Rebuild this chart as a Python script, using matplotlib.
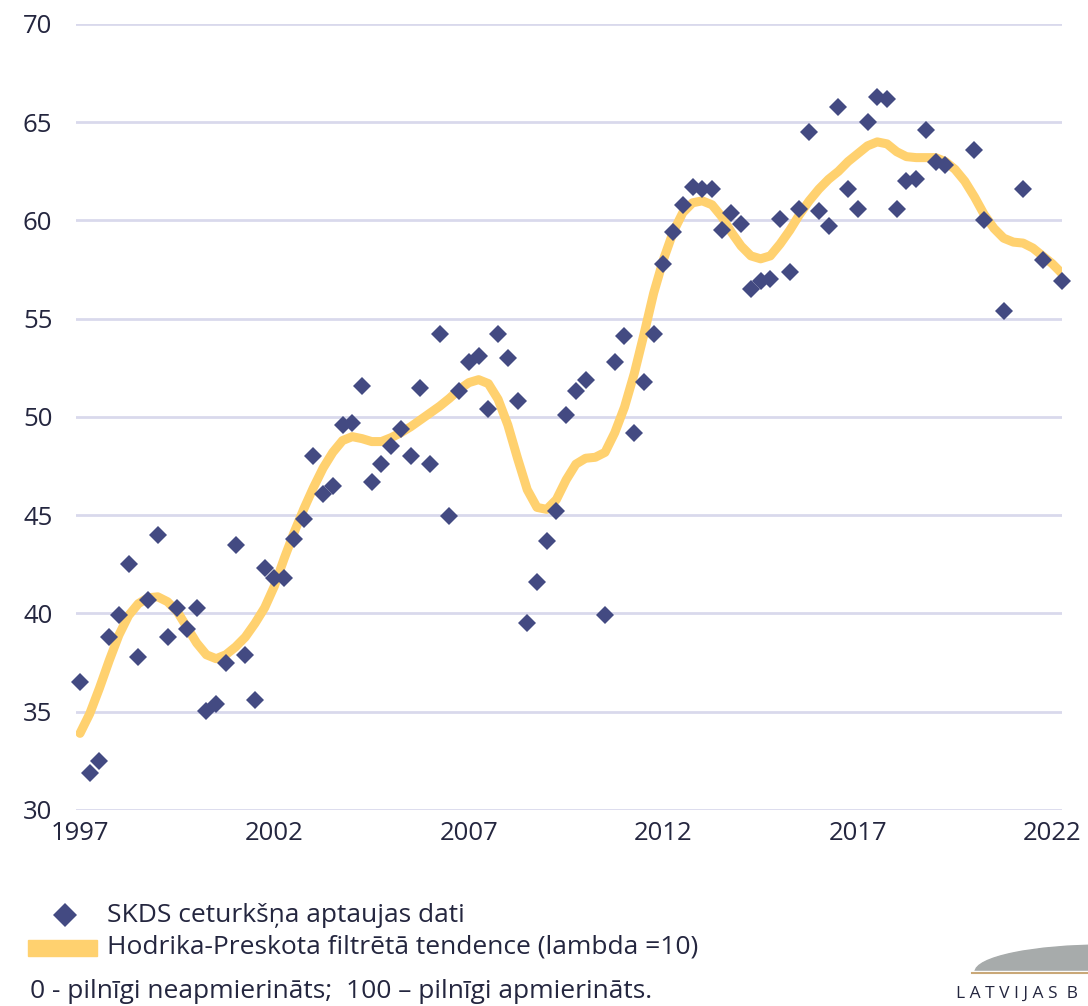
import matplotlib
matplotlib.use("Agg")
import matplotlib.pyplot as plt
import numpy as np
from matplotlib.patches import Rectangle, Ellipse
from matplotlib.lines import Line2D

plt.rcParams['font.family'] = ['Open Sans', 'DejaVu Sans']

start_year = 1997
# quarterly survey values 1997Q1 .. 2022Q2 (None = no survey that quarter)
survey_values = [
    36.5, 31.9, 32.5, 38.8, 39.9, 42.5, 37.8, 40.7, 44.0, 38.8,
    40.3, 39.2, 40.3, 35.05, 35.4, 37.5, 43.5, 37.9, 35.6, 42.3,
    41.8, 41.8, 43.8, 44.8, 48.0, 46.1, 46.5, 49.6, 49.7, 51.6,
    46.7, 47.6, 48.5, 49.4, 48.0, 51.5, 47.6, 54.2, 44.95, 51.3,
    52.8, 53.1, 50.4, 54.2, 53.0, 50.8, 39.5, 41.6, 43.7, 45.2,
    50.1, 51.3, 51.9, None, 39.9, 52.8, 54.1, 49.2, 51.8, 54.2,
    57.8, 59.4, 60.8, 61.7, 61.6, 61.6, 59.5, 60.4, 59.8, 56.5,
    56.9, 57.0, 60.1, 57.4, 60.6, 64.5, 60.5, 59.7, 65.8, 61.6,
    60.6, 65.0, 66.3, 66.2, 60.6, 62.0, 62.1, 64.6, 63.0, 62.8,
    None, None, 63.6, 60.0, None, 55.4, None, 61.6, None, 58.0,
    None, 56.9,
]
# Hodrick-Prescott trend (lambda = 10)
trend_values = [
    33.9, 34.9, 36.2, 37.6, 38.9, 39.9, 40.5, 40.8, 40.85, 40.6,
    40.1, 39.3, 38.5, 37.9, 37.7, 37.9, 38.3, 38.8, 39.5, 40.3,
    41.4, 42.8, 44.1, 45.3, 46.4, 47.4, 48.2, 48.8, 49.0, 48.9,
    48.75, 48.75, 48.95, 49.2, 49.5, 49.85, 50.2, 50.55, 50.95, 51.4,
    51.75, 51.9, 51.7, 50.9, 49.6, 47.9, 46.3, 45.4, 45.3, 45.8,
    46.8, 47.6, 47.9, 47.95, 48.2, 49.2, 50.5, 52.2, 54.2, 56.3,
    58.0, 59.4, 60.4, 60.9, 61.0, 60.8, 60.2, 59.4, 58.7, 58.2,
    58.05, 58.2, 58.8, 59.5, 60.3, 61.0, 61.6, 62.1, 62.5, 63.0,
    63.4, 63.8, 64.0, 63.9, 63.5, 63.25, 63.2, 63.2, 63.2, 63.0,
    62.6, 62.0, 61.2, 60.3, 59.6, 59.1, 58.9, 58.85, 58.6, 58.2,
    57.8, 57.3,
]
x_ticks = [1997, 2002, 2007, 2012, 2017, 2022]
y_ticks = [30, 35, 40, 45, 50, 55, 60, 65, 70]

legend_labels = ["SKDS ceturkšņa aptaujas dati",
                 "Hodrika-Preskota filtrētā tendence (lambda =10)"]
note_text = "0 - pilnīgi neapmierināts;  100 – pilnīgi apmierināts."

navy = "#434a82"
yellow = "#ffd16f"
grid_c = "#d9d9ec"
text_c = "#24263f"

t = start_year + np.arange(len(trend_values)) / 4.0
sv = np.array([np.nan if v is None else v for v in survey_values], dtype=float)

W, H = 1088, 1006
fig = plt.figure(figsize=(W / 100, H / 100), dpi=100)
ax = fig.add_axes([76 / W, 1 - 810 / H, (1062 - 76) / W, (810 - 24) / H])

ax.set_ylim(30, 70)
ax.set_xlim(1997 - 4 / 38.9, 1997 + 101 / 4)
ax.set_yticks(y_ticks)
ax.set_xticks(x_ticks)
ax.yaxis.grid(True, color=grid_c, linewidth=2)
ax.set_axisbelow(True)
for s in ax.spines.values():
    s.set_visible(False)
ax.tick_params(length=0, labelsize=18.5, colors=text_c)
ax.tick_params(axis='y', pad=17)
ax.tick_params(axis='x', pad=8)

ax.plot(t, trend_values, color=yellow, linewidth=6.5, solid_capstyle='round',
        solid_joinstyle='round', zorder=2)
ax.plot(t, sv, linestyle='none', marker='D', markersize=9.2, color=navy,
        markeredgewidth=0, zorder=3, clip_on=False)

# legend (drawn manually)
fig.lines.append(Line2D([65 / W], [1 - 915 / H], marker='D', markersize=12,
                        color=navy, markeredgewidth=0, transform=fig.transFigure,
                        linestyle='none'))
fig.text(107 / W, 1 - 915 / H, legend_labels[0], fontsize=19, color=text_c,
         va='center', ha='left')
fig.patches.append(Rectangle((28 / W, 1 - 956 / H), 69 / W, 16 / H,
                             transform=fig.transFigure, color=yellow))
fig.text(107 / W, 1 - 947 / H, legend_labels[1], fontsize=19, color=text_c,
         va='center', ha='left')
fig.text(30 / W, 1 - 992 / H, note_text, fontsize=19, color=text_c,
         va='center', ha='left')

# logo fragment (bottom right)
lax = fig.add_axes([940 / W, 0, 148 / W, 70 / H])
lax.set_xlim(940, 1088)
lax.set_ylim(1006, 936)
lax.axis('off')
lax.add_patch(Ellipse((1105, 972), 260, 54, color="#a7abab"))
lax.add_patch(Rectangle((940, 971), 200, 40, color="white"))
lax.plot([972, 1088], [973, 973], color="#c9a878", linewidth=1.5)
lax.text(956, 994, "L A T V I J A S  B", fontsize=12.5, color="#24263f",
         va='center', ha='left', clip_on=False)

fig.savefig("out.png", dpi=100)
